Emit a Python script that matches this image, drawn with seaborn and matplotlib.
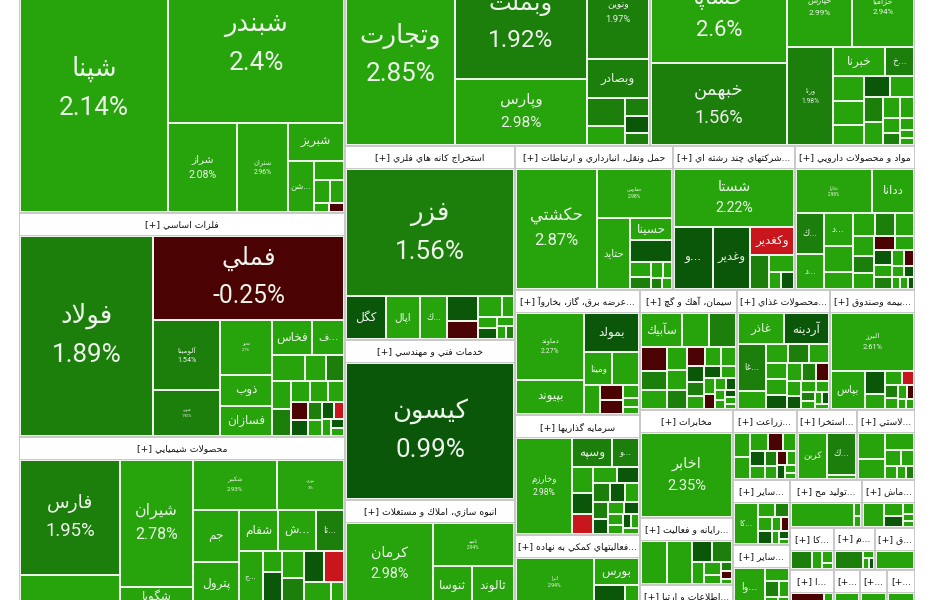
import math
import numpy as np
import matplotlib
matplotlib.use("Agg")
import matplotlib.pyplot as plt
from matplotlib.patches import Rectangle
import seaborn as sns

sns.set_theme(style="white")
plt.rcParams["font.family"] = ["DejaVu Sans"]

# ---------------- market map data ----------------
# sectors in layout order, with their market value (map area units)
SECTORS = [
    "فراورده هاي نفتي، كك و سوخت هسته اي", "فلزات اساسي", "محصولات شيميايي",
    "بانكها و موسسات اعتباري", "خودرو و ساخت قطعات",
    "استخراج كانه هاي فلزي", "خدمات فني و مهندسي", "انبوه سازي، املاك و مستغلات",
    "حمل ونقل، انبارداري و ارتباطات", "شركتهاي چند رشته اي صنعتي", "مواد و محصولات دارويي",
    "عرضه برق، گاز، بخاروآب گرم", "سرمايه گذاريها", "فعاليتهاي كمكي به نهادهاي مالي واسط",
    "سيمان، آهك و گچ", "محصولات غذايي و آشاميدني به جز قند و شكر", "بيمه وصندوق بازنشستگي",
    "مخابرات", "رايانه و فعاليت هاي وابسته به آن", "اطلاعات و ارتباطات",
    "زراعت و خدمات وابسته", "استخراج نفت گاز و خدمات جنبي", "لاستيك و پلاستيك",
    "ساير محصولات كاني غيرفلزي", "ساير واسطه گريهاي مالي",
    "توليد محصولات كامپيوتري الكترونيكي ونوري", "ماشين آلات و تجهيزات",
    "كاشي و سراميك", "استخراج ساير معادن",
    "محصولات كاغذي", "قند و شكر",
    "دباغي، پرداخت چرم", "ساخت محصولات فلزي", "منسوجات",
]
SECTOR_CAP = [
    88020, 73024, 55094,
    61915, 53795,
    32980, 27200, 18020,
    22752, 17568, 17280,
    15625, 15000, 8875,
    11640, 11160, 10200,
    10044, 6231, 1953,
    4480, 4200, 4060,
    3705, 3477,
    3456, 2544,
    1848, 1584,
    1722, 1680,
    936, 972, 1008,
]
TOP_STRIP_COUNTS = [3, 2, 3, 3, 3, 3, 3, 3, 2, 2, 2, 2, 1, 2]

REFINERY_TICKERS = ["شپنا", "شبندر", "شراز", "شتران", "شبريز", "شن..."]
REFINERY_CHANGE = [2.14, 2.40, 2.08, 2.96, 2.55, 2.31, 2.62, 2.70, 2.24, 2.90, -0.61]
REFINERY_CAP = [36408, 27632, 6141, 4539, 2128, 1345, 564, 357, 335, 129, 126]

METALS_TICKERS = ["فولاد", "فملي", "آلومينا", "فنورد", "فخوز", "ذوب", "فسازان", "فخاس", "ف..."]
METALS_CHANGE = [1.89, -0.25, 1.54, 1.92, 2.10, 2.45, 2.60, 2.40, 2.30, 2.50, 2.60, 1.60,
                 2.50, 1.60, 2.40, 2.50, 2.30, -0.50, 0.60, 1.50, 2.40, 0.50, -2.10, 2.50, 0.40, 2.20]
METALS_CAP = [26334, 15853, 4690, 3015, 2860, 1560, 1560, 1400, 1120, 825, 525, 450,
              520, 480, 420, 380, 340, 300, 280, 250, 220, 200, 160, 140, 120, 100]

CHEM_TICKERS = ["فارس", "", "شيران", "شگويا", "شكبير", "نوري", "جم", "پترول", "شفام", "ش...", "تا...", "ج..."]
CHEM_CHANGE = [1.95, 2.50, 2.78, 2.60, 2.93, 3.00, 2.40, 2.50, 2.45, 2.30, 1.60,
               2.50, 2.60, 0.50, 2.40, 1.60, 0.40, -2.20, 2.50, 2.50]
CHEM_CAP = [11500, 3000, 9271, 1314, 4200, 3350, 2392, 1978, 1599, 1558, 1148,
            1271, 403, 625, 625, 600, 625, 625, 600, 296]
CHEM_STRIPS = [("v", 2), ("v", 2), ("h", 2), ("v", 2), ("h", 3)]

BANKS_TICKERS = ["وتجارت", "وبملت", "وپارس", "ونوين", "وبصادر"]
BANKS_CHANGE = [2.85, 1.92, 2.98, 1.97, 1.60, 1.55, 2.50, 1.50, 0.50, 1.60]
BANKS_CAP = [19511, 14916, 8712, 5766, 2418, 1081, 700, 433, 400, 300]

AUTO_TICKERS = ["خساپا", "خبهمن", "خپارس", "خزاميا", "ورنا", "خبرنا", "خ..."]
AUTO_CHANGE = [2.60, 1.56, 2.99, 2.94, 1.98, 2.50, 1.60,
               2.50, 2.40, 2.60, 0.50, 2.50, 1.60, 2.40, 2.50, 2.30, 2.60, 1.50, 2.50, 2.40, 2.50]
AUTO_CAP = [13289, 11097, 5312, 5063, 4512, 1500, 840,
            782, 736, 620, 560, 500, 460, 420, 360, 300, 250, 200, 160, 120, 100]

MINING_TICKERS = ["فزر", "كگل", "اپال", "ك..."]
MINING_CHANGE = [1.56, 0.60, 2.50, 2.40, 0.50, -0.50, 2.50, 2.50, 2.40, 0.50, 2.60, 2.50, 1.60]
MINING_CAP = [21000, 1677, 1419, 1161, 750, 529, 483, 250, 220, 200, 150, 120, 100]

ENGINEERING_TICKERS = ["کيسون"]
ENGINEERING_CHANGE = [0.99]
ENGINEERING_CAP = [1]

BUILDING_TICKERS = ["كرمان", "ثاميد", "ثنوسا", "ثالوند"]
BUILDING_CHANGE = [2.98, 2.94, 2.50, 2.45]
BUILDING_CAP = [7134, 3483, 1521, 1638]

TRANSPORT_TICKERS = ["حكشتي", "حفارس", "حتايد", "حسينا"]
TRANSPORT_CHANGE = [2.87, 2.98, 2.87, 2.50, 0.50, 2.50, 1.60, 2.50, 2.50, 1.60, 2.50]
TRANSPORT_CAP = [9639, 3600, 2310, 940, 880, 300, 250, 200, 150, 120, 100]

HOLDING_TICKERS = ["شستا", "و...", "وغدير", "وكغدير"]
HOLDING_CHANGE = [2.22, 0.50, 0.60, -2.00, 1.60, 2.50, 2.50, 0.50]
HOLDING_CAP = [6545, 2257, 2196, 1176, 594, 408, 200, 200]

PHARMA_TICKERS = ["دفارا", "ددانا", "ك...", "د...", "د..."]
PHARMA_CHANGE = [2.98, 2.50, 1.60, 2.50, 2.50, 2.50, 2.50, 2.50, 1.60, 2.50, 2.50, 1.60, 2.50,
                 -0.50, 2.50, 0.50, 2.50, 1.60, 2.50, -0.50, 2.50, 0.50, 2.50, 2.50, 0.50]
PHARMA_CAP = [3034, 1681, 1000, 858, 850, 676, 440, 440, 400, 390, 380, 330, 300,
              260, 240, 220, 200, 180, 160, 140, 120, 100, 90, 80, 70]

POWER_TICKERS = ["دماوند", "بپيوند", "بمولد", "ومينا"]
POWER_CHANGE = [2.27, 2.89, 0.50, 2.50, 2.50, 2.50, -0.50, -0.50, 2.50, 2.50, 2.50]
POWER_CAP = [4422, 2244, 2106, 864, 832, 430, 338, 324, 200, 150, 100]

INVEST_TICKERS = ["وخارزم", "وسپه", "و..."]
INVEST_CHANGE = [2.98, 1.60, 1.60, 2.50, 0.50, -2.00, 2.50, 0.50, 1.60, 0.50,
                 2.50, 1.60, 0.50, 2.50, 0.50, 2.50, 2.50, 0.50, 2.50, 2.50]
INVEST_CAP = [5040, 1110, 750, 530, 420, 391, 360, 330, 300, 280,
              250, 230, 210, 190, 170, 150, 130, 110, 100, 90]

BROKER_TICKERS = ["اترا", "بورس"]
BROKER_CHANGE = [2.94, 2.50, 0.50, 2.50]
BROKER_CAP = [3666, 1230, 615, 270]

CEMENT_TICKERS = ["سآبيك"]
CEMENT_CHANGE = [2.50, 2.50, 1.60, -0.50, 1.60, 2.50, 2.50, 2.50, 1.60, -0.50, 2.50, 2.50, 0.50,
                 1.60, 2.50, 0.50, 2.50, 2.50, -0.50, 2.50, 0.50, 2.50, 2.50, 0.50, 2.50, 2.50]
CEMENT_CAP = [1406, 962, 925, 600, 506, 480, 450, 420, 380, 330, 300, 280, 260,
              240, 220, 200, 180, 160, 150, 130, 120, 100, 90, 80, 70, 60]

FOOD_TICKERS = ["غاذر", "آردينه", "غا..."]
FOOD_CHANGE = [2.50, 0.50, 1.60, 2.50, 2.50, 1.60, 2.50, 2.50, 2.50, 0.50, 2.50,
               1.60, -0.50, 2.50, 0.50, 2.50, 2.50, 1.60, 2.50, 2.50, 0.50, 2.50]
FOOD_CAP = [1430, 1420, 1305, 493, 420, 400, 380, 350, 320, 300, 280,
            250, 230, 210, 190, 170, 150, 130, 110, 90, 80, 70]

INSURANCE_TICKERS = ["البرز", "بپاس"]
INSURANCE_CHANGE = [2.61, 2.50, 0.50, 2.50, 2.50, -2.00, 1.60, 2.50, 2.50, -0.50, 2.50, 2.50]
INSURANCE_CAP = [4800, 1296, 460, 300, 250, 180, 160, 150, 120, 100, 80, 72]

TELECOM_TICKERS = ["اخابر"]
TELECOM_CHANGE = [2.35]
TELECOM_CAP = [1]

COMPUTER_CHANGE = [2.50, 2.50, 0.50, 1.60, 2.50, 2.50, 2.50, 1.60, -0.50, 2.50]
COMPUTER_CAP = [1075, 1075, 414, 414, 250, 200, 150, 100, 80, 60]

FARMING_CHANGE = [2.50, 2.50, 2.50, -0.50, 2.50, 0.50, 2.50, 1.60, 2.50, -0.50, 2.50, 0.50, 2.50, 2.50]
FARMING_CAP = [450, 400, 380, 300, 280, 250, 220, 200, 180, 160, 140, 120, 100, 80]

OIL_TICKERS = ["كربن", "ك..."]
OIL_CHANGE = [2.50, 1.60, 2.50]
OIL_CAP = [1120, 1040, 100]

RUBBER_CHANGE = [2.50, 2.50, 2.50, 2.50, 2.50, 2.50, 2.50, 1.60]
RUBBER_CAP = [713, 527, 483, 250, 200, 150, 120, 100]

MINERAL_TICKERS = ["كا..."]
MINERAL_CHANGE = [2.50, 2.50, 1.60, 2.50, 0.50, 2.50, -0.50, 2.50, 0.50, 2.50]
MINERAL_CAP = [1100, 260, 220, 200, 180, 150, 120, 100, 80, 60]

FINANCE_TICKERS = ["وا..."]
FINANCE_CHANGE = [2.50, 2.50, 1.60, 2.50, 2.50, 2.50]
FINANCE_CAP = [1100, 300, 200, 150, 100, 80]

ELECTRONIC_CHANGE = [2.50, 2.50, 2.50]
ELECTRONIC_CAP = [1450, 80, 70]
MACHINE_CHANGE = [2.50, 2.50, 0.50, 2.50, 2.50, 2.50]
MACHINE_CAP = [500, 250, 200, 120, 80, 60]
TILE_CHANGE = [1.60, 2.50, 2.50, 2.50]
TILE_CAP = [340, 150, 120, 60]
OTHERMINE_CHANGE = [-0.60, 2.50]
OTHERMINE_CAP = [350, 100]
PAPER_CHANGE = [1.60, 2.50, 2.50, 0.50]
PAPER_CAP = [480, 80, 60, 50]
SUGAR_CHANGE = [2.50]
SUGAR_CAP = [700]
SMALL_CHANGE = [2.50]
SMALL_CAP = [1]

STOCKS = [
    (REFINERY_TICKERS, REFINERY_CHANGE, REFINERY_CAP),
    (METALS_TICKERS, METALS_CHANGE, METALS_CAP),
    (CHEM_TICKERS, CHEM_CHANGE, CHEM_CAP),
    (BANKS_TICKERS, BANKS_CHANGE, BANKS_CAP),
    (AUTO_TICKERS, AUTO_CHANGE, AUTO_CAP),
    (MINING_TICKERS, MINING_CHANGE, MINING_CAP),
    (ENGINEERING_TICKERS, ENGINEERING_CHANGE, ENGINEERING_CAP),
    (BUILDING_TICKERS, BUILDING_CHANGE, BUILDING_CAP),
    (TRANSPORT_TICKERS, TRANSPORT_CHANGE, TRANSPORT_CAP),
    (HOLDING_TICKERS, HOLDING_CHANGE, HOLDING_CAP),
    (PHARMA_TICKERS, PHARMA_CHANGE, PHARMA_CAP),
    (POWER_TICKERS, POWER_CHANGE, POWER_CAP),
    (INVEST_TICKERS, INVEST_CHANGE, INVEST_CAP),
    (BROKER_TICKERS, BROKER_CHANGE, BROKER_CAP),
    (CEMENT_TICKERS, CEMENT_CHANGE, CEMENT_CAP),
    (FOOD_TICKERS, FOOD_CHANGE, FOOD_CAP),
    (INSURANCE_TICKERS, INSURANCE_CHANGE, INSURANCE_CAP),
    (TELECOM_TICKERS, TELECOM_CHANGE, TELECOM_CAP),
    ([], COMPUTER_CHANGE, COMPUTER_CAP),
    ([], SMALL_CHANGE, SMALL_CAP),
    ([], FARMING_CHANGE, FARMING_CAP),
    (OIL_TICKERS, OIL_CHANGE, OIL_CAP),
    ([], RUBBER_CHANGE, RUBBER_CAP),
    (MINERAL_TICKERS, MINERAL_CHANGE, MINERAL_CAP),
    (FINANCE_TICKERS, FINANCE_CHANGE, FINANCE_CAP),
    ([], ELECTRONIC_CHANGE, ELECTRONIC_CAP),
    ([], MACHINE_CHANGE, MACHINE_CAP),
    ([], TILE_CHANGE, TILE_CAP),
    ([], OTHERMINE_CHANGE, OTHERMINE_CAP),
    ([], PAPER_CHANGE, PAPER_CAP),
    ([], SUGAR_CHANGE, SUGAR_CAP),
    ([], SMALL_CHANGE, SMALL_CAP),
    ([], SMALL_CHANGE, SMALL_CAP),
    ([], SMALL_CHANGE, SMALL_CAP),
]
GROUP_STRIPS = {2: CHEM_STRIPS}

# colour steps for daily change
CHANGE_BINS = [-1.0, 0.0, 1.2, 2.0]
PALETTE = sns.color_palette(["#c8161c", "#4a0202", "#0b570a", "#1c7e0b", "#27a40c"])

# ---------------- persian shaping (matplotlib has no bidi) ----------------
_AR = {
    "ا": (0xFE8D, 0xFE8E, None, None), "آ": (0xFE81, 0xFE82, None, None),
    "ب": (0xFE8F, 0xFE90, 0xFE91, 0xFE92), "پ": (0xFB56, 0xFB57, 0xFB58, 0xFB59),
    "ت": (0xFE95, 0xFE96, 0xFE97, 0xFE98), "ث": (0xFE99, 0xFE9A, 0xFE9B, 0xFE9C),
    "ج": (0xFE9D, 0xFE9E, 0xFE9F, 0xFEA0), "چ": (0xFB7A, 0xFB7B, 0xFB7C, 0xFB7D),
    "ح": (0xFEA1, 0xFEA2, 0xFEA3, 0xFEA4), "خ": (0xFEA5, 0xFEA6, 0xFEA7, 0xFEA8),
    "د": (0xFEA9, 0xFEAA, None, None), "ذ": (0xFEAB, 0xFEAC, None, None),
    "ر": (0xFEAD, 0xFEAE, None, None), "ز": (0xFEAF, 0xFEB0, None, None),
    "ژ": (0xFB8A, 0xFB8B, None, None),
    "س": (0xFEB1, 0xFEB2, 0xFEB3, 0xFEB4), "ش": (0xFEB5, 0xFEB6, 0xFEB7, 0xFEB8),
    "ص": (0xFEB9, 0xFEBA, 0xFEBB, 0xFEBC), "ض": (0xFEBD, 0xFEBE, 0xFEBF, 0xFEC0),
    "ط": (0xFEC1, 0xFEC2, 0xFEC3, 0xFEC4), "ظ": (0xFEC5, 0xFEC6, 0xFEC7, 0xFEC8),
    "ع": (0xFEC9, 0xFECA, 0xFECB, 0xFECC), "غ": (0xFECD, 0xFECE, 0xFECF, 0xFED0),
    "ف": (0xFED1, 0xFED2, 0xFED3, 0xFED4), "ق": (0xFED5, 0xFED6, 0xFED7, 0xFED8),
    "ك": (0xFED9, 0xFEDA, 0xFEDB, 0xFEDC), "ک": (0xFB8E, 0xFB8F, 0xFB90, 0xFB91),
    "گ": (0xFB92, 0xFB93, 0xFB94, 0xFB95),
    "ل": (0xFEDD, 0xFEDE, 0xFEDF, 0xFEE0), "م": (0xFEE1, 0xFEE2, 0xFEE3, 0xFEE4),
    "ن": (0xFEE5, 0xFEE6, 0xFEE7, 0xFEE8), "ه": (0xFEE9, 0xFEEA, 0xFEEB, 0xFEEC),
    "و": (0xFEED, 0xFEEE, None, None),
    "ي": (0xFEF1, 0xFEF2, 0xFEF3, 0xFEF4), "ی": (0xFBFC, 0xFBFD, 0xFBFE, 0xFBFF),
}


def shape(word):
    out, i, n = [], 0, len(word)
    while i < n:
        c = word[i]
        f = _AR.get(c)
        if f is None:
            out.append(c)
            i += 1
            continue
        prev = word[i - 1] if i > 0 else ""
        join_prev = prev in _AR and _AR[prev][2] is not None
        if c == "ل" and i + 1 < n and word[i + 1] in "اآ":
            lig = (0xFEFB, 0xFEFC) if word[i + 1] == "ا" else (0xFEF5, 0xFEF6)
            out.append(chr(lig[1] if join_prev else lig[0]))
            i += 2
            continue
        nxt = word[i + 1] if i + 1 < n else ""
        join_next = f[2] is not None and nxt in _AR
        if join_prev and join_next:
            cp = f[3]
        elif join_prev:
            cp = f[1]
        elif join_next:
            cp = f[2]
        else:
            cp = f[0]
        out.append(chr(cp))
        i += 1
    return "".join(out)


def rtl(text):
    dots = text.endswith("...")
    core = text[:-3] if dots else text
    return shape(core)[::-1] + ("..." if dots else "")


# ---------------- squarified treemap ----------------
def strip(vals, x, y, w, h, vertical):
    total = sum(vals)
    out = []
    if vertical:
        cw = total / h
        yy = y
        for v in vals:
            out.append((x, yy, cw, v / cw))
            yy += v / cw
        return out, (x + cw, y, w - cw, h)
    rh = total / w
    xx = x
    for v in vals:
        out.append((xx, y, v / rh, rh))
        xx += v / rh
    return out, (x, y + rh, w, h - rh)


def worst(vals, w, h):
    rects, _ = strip(vals, 0, 0, w, h, w > h)
    return max(max(a / b, b / a) for _, _, a, b in rects)


def treemap(values, x, y, w, h, strips=()):
    scale = w * h / sum(values)
    vals = [v * scale for v in values]
    out, i = [], 0
    for orient, n in strips:
        rects, (x, y, w, h) = strip(vals[i:i + n], x, y, w, h, orient == "v")
        out += rects
        i += n
    while i < len(vals):
        j = i + 1
        while j < len(vals) and worst(vals[i:j + 1], w, h) <= worst(vals[i:j], w, h):
            j += 1
        rects, (x, y, w, h) = strip(vals[i:j], x, y, w, h, w > h)
        out += rects
        i = j
    return out


def tile_color(p):
    return PALETTE[int(np.digitize(p, CHANGE_BINS))]


TEXT = "#eef4ec"
GAP = "#eef3ec"
BORDER = "#c9c9c9"

fig = plt.figure(figsize=(9.34, 6.0), dpi=100)
ax = fig.add_axes([0, 0, 1, 1])
ax.set_xlim(0, 934)
ax.set_ylim(600, 0)
ax.axis("off")
renderer = fig.canvas.get_renderer()

top_strips = [("v" if k % 2 == 0 else "h", n) for k, n in enumerate(TOP_STRIP_COUNTS)]
groups = treemap(SECTOR_CAP, 19, -57, 896, 663, top_strips)


def fit_header(t, name, width):
    cands = ["[+] " + rtl(name)]
    cands += ["[+] " + rtl(name[:k].rstrip()) + "..." for k in range(len(name) - 1, 0, -1)]
    cands += ["[+] ...", "[+...", "[...", ""]
    for s in cands:
        t.set_text(s)
        if t.get_window_extent(renderer=renderer).width <= width:
            return


def draw_label(x, y, w, h, name, chg, clip):
    if not name:
        return
    area = w * h
    cx, cy = x + w / 2, y + h / 2
    texts = []
    if w >= 44 and area >= 2500:
        fs = float(np.interp(math.sqrt(area), [55, 65, 78, 82, 95, 107, 120, 140],
                             [3.8, 6.0, 10.0, 14.0, 15.5, 18.5, 24.0, 26.0]))
        fs = min(fs, w / 3.0, h / 3.2)
        texts.append(ax.text(cx, cy - 0.76 * fs, rtl(name), fontsize=fs * 0.72, ha="center",
                             va="center", color=TEXT, family=["DejaVu Sans"], clip_on=True))
        texts.append(ax.text(cx, cy + 0.74 * fs, f"{chg:g}%", fontsize=fs * 0.72, ha="center",
                             va="center", color=TEXT, family=["Roboto"], clip_on=True))
    elif w >= 22 and h >= 16:
        fs = min(12.0, w / 3.2, h * 0.7)
        texts.append(ax.text(cx, cy, rtl(name), fontsize=fs * 0.72, ha="center", va="center",
                             color=TEXT, family=["DejaVu Sans"], clip_on=True))
    for t in texts:
        t.set_clip_path(clip)


for gi, ((gx, gy, gw, gh), title, (tickers, change, cap)) in enumerate(zip(groups, SECTORS, STOCKS)):
    ax.add_patch(Rectangle((gx, gy), gw, gh, facecolor=BORDER, edgecolor="none"))
    head = Rectangle((gx + 1, gy + 1), gw - 2, 20.5, facecolor="white", edgecolor="none")
    ax.add_patch(head)
    ht = ax.text(gx + gw / 2, gy + 12, "", fontsize=6.7, ha="center", va="center",
                 color="#111111", family=["DejaVu Sans"], clip_on=True)
    fit_header(ht, title, gw - 6)
    ht.set_clip_path(head)

    cx, cy, cw, ch = gx + 1, gy + 22.5, gw - 2, gh - 23.5
    if ch < 2:
        continue
    ax.add_patch(Rectangle((cx, cy), cw, ch, facecolor=GAP, edgecolor="none"))
    names = list(tickers) + [""] * (len(cap) - len(tickers))
    for (x, y, w, h), name, p in zip(treemap(cap, cx, cy, cw, ch, GROUP_STRIPS.get(gi, ())), names, change):
        tile = Rectangle((x + 1, y + 1), max(w - 2, 0.3), max(h - 2, 0.3),
                         facecolor=tile_color(p), edgecolor="none")
        ax.add_patch(tile)
        draw_label(x, y, w, h, name, p, tile)

fig.savefig("out.png", dpi=100, facecolor="white")
